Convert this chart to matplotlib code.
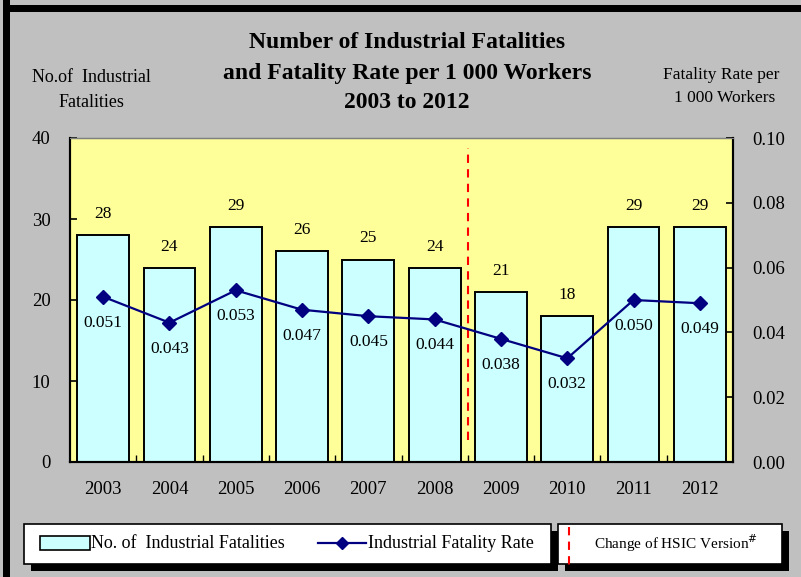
import matplotlib
matplotlib.use("Agg")
import matplotlib.pyplot as plt
from matplotlib.patches import Rectangle
from matplotlib.lines import Line2D

years = ["2003", "2004", "2005", "2006", "2007", "2008", "2009", "2010", "2011", "2012"]
fatalities = [28, 24, 29, 26, 25, 24, 21, 18, 29, 29]
rates = [0.051, 0.043, 0.053, 0.047, 0.045, 0.044, 0.038, 0.032, 0.050, 0.049]
rate_labels = ["0.051", "0.043", "0.053", "0.047", "0.045", "0.044", "0.038", "0.032", "0.050", "0.049"]
left_ticks = [0, 10, 20, 30, 40]
right_ticks = [0.00, 0.02, 0.04, 0.06, 0.08, 0.10]

SERIF = ["Liberation Serif", "DejaVu Serif"]
plt.rcParams['font.family'] = SERIF

W, H = 801, 577
fig = plt.figure(figsize=(W / 100, H / 100), dpi=100)
fig.patch.set_facecolor("#C0C0C0")

def fx(px):
    return px / W

def fy(py):
    return 1 - py / H

# outer black frame (top and left)
fig.add_artist(Rectangle((fx(3), fy(577)), fx(7) - fx(0), 1, transform=fig.transFigure,
                         facecolor="black", edgecolor="none"))
fig.add_artist(Rectangle((fx(3), fy(12)), 1, 7 / H, transform=fig.transFigure,
                         facecolor="black", edgecolor="none"))

# axes
L, R, T, B = 70, 733, 138, 462
ax = fig.add_axes([fx(L), fy(B), fx(R) - fx(L), (B - T) / H])
ax.set_facecolor("#FFFF99")
x = list(range(len(years)))
ax.bar(x, fatalities, width=0.78, color="#CCFFFF", edgecolor="black", linewidth=1.4, zorder=2)
ax.set_xlim(-0.5, len(years) - 0.5)
ax.set_ylim(0, 40)
ax.set_yticks(left_ticks)
ax.set_yticklabels([str(v) for v in left_ticks], fontsize=13.5)
ax.set_xticks(x)
ax.set_xticklabels(years, fontsize=13.5)
ax.tick_params(axis="x", length=0, pad=14)
ax.set_xticks([i + 0.5 for i in range(len(years) - 1)], minor=True)
ax.tick_params(axis="x", which="minor", direction="in", length=5, width=1)
ax.tick_params(axis="y", direction="in", length=5, width=1.2, pad=14)
for s in ["left", "right", "bottom"]:
    ax.spines[s].set_linewidth(1.5)
    ax.spines[s].set_color("black")
ax.spines["top"].set_color("#808080")
ax.spines["top"].set_linewidth(1)

for i, v in enumerate(fatalities):
    ax.annotate(str(v), (i, v), xytext=(0, 21), textcoords="offset pixels",
                ha="center", va="center", fontsize=12.5, zorder=5)

# red dashed HSIC line
ax.axvline(5.5, ymin=0.068, ymax=0.97, color="#FF0000", linestyle=(0, (4, 3)),
           linewidth=1.5, zorder=3)

ax2 = ax.twinx()
ax2.set_ylim(0, 0.10)
ax2.set_yticks(right_ticks)
ax2.set_yticklabels([f"{v:.2f}" for v in right_ticks], fontsize=13.5)
ax2.tick_params(axis="y", direction="in", length=5, width=1.2, pad=14)
for s in ["left", "right", "bottom"]:
    ax2.spines[s].set_linewidth(1.5)
ax2.spines["top"].set_color("#808080")
ax2.plot(x, rates, color="#000080", linewidth=1.6, marker="D", markersize=7,
         markerfacecolor="#000080", markeredgecolor="#000080", zorder=4)
for i, (v, lab) in enumerate(zip(rates, rate_labels)):
    ax2.annotate(lab, (i, v), xytext=(0, -26), textcoords="offset pixels",
                 ha="center", va="center", fontsize=12.5, zorder=5)

# titles
for ty, tt in [(42, "Number of Industrial Fatalities"),
               (73, "and Fatality Rate per 1 000 Workers"),
               (102, "2003 to 2012")]:
    fig.text(fx(407), fy(ty), tt, ha="center", va="center", fontsize=17, fontweight="bold")
fig.text(fx(91), fy(77), "No.of  Industrial", ha="center", va="center", fontsize=13)
fig.text(fx(91), fy(102), "Fatalities", ha="center", va="center", fontsize=13)
fig.text(fx(721), fy(75), "Fatality Rate per", ha="center", va="center", fontsize=12.5)
fig.text(fx(725), fy(98), "1 000 Workers", ha="center", va="center", fontsize=12.5)

# legend boxes with shadows
def box(x0, y0, x1, y1):
    sh = 7
    fig.add_artist(Rectangle((fx(x0 + sh), fy(y1 + sh)), fx(x1) - fx(x0), (y1 - y0) / H,
                             transform=fig.transFigure, facecolor="black", edgecolor="none"))
    fig.add_artist(Rectangle((fx(x0), fy(y1)), fx(x1) - fx(x0), (y1 - y0) / H,
                             transform=fig.transFigure, facecolor="white", edgecolor="black",
                             linewidth=1.2))

box(24, 524, 551, 564)
box(558, 524, 782, 564)

ly = 543
fig.add_artist(Rectangle((fx(40), fy(ly + 7)), fx(90) - fx(40), 14 / H, transform=fig.transFigure,
                         facecolor="#CCFFFF", edgecolor="black", linewidth=1.2))
fig.text(fx(91), fy(ly), "No. of  Industrial Fatalities", ha="left", va="center", fontsize=13)
fig.add_artist(Line2D([fx(318), fx(366)], [fy(ly), fy(ly)], transform=fig.transFigure,
                      color="#000080", linewidth=1.6, marker=None))
fig.add_artist(Line2D([fx(342)], [fy(ly)], transform=fig.transFigure, color="#000080",
                      marker="D", markersize=6, linestyle="none"))
fig.text(fx(368), fy(ly), "Industrial Fatality Rate", ha="left", va="center", fontsize=13)
fig.add_artist(Line2D([fx(569), fx(569)], [fy(527), fy(566)], transform=fig.transFigure,
                      color="#FF0000", linewidth=1.5, linestyle=(0, (4, 3))))
fig.text(fx(676), fy(ly), "Change of HSIC Version$^{\\#}$", ha="center", va="center", fontsize=11)

fig.savefig("out.png", dpi=100, facecolor=fig.get_facecolor())
